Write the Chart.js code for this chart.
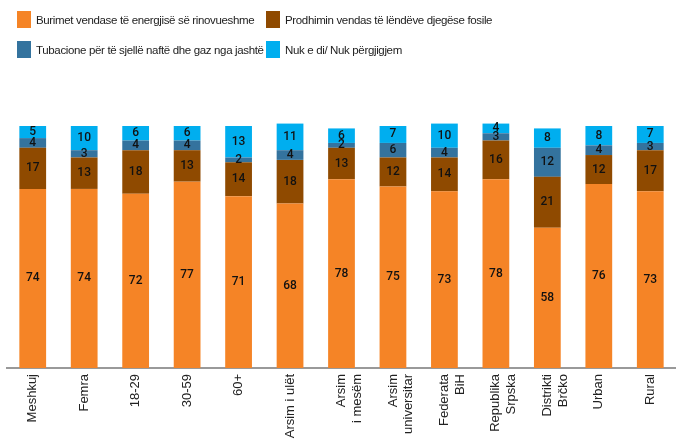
<!DOCTYPE html>
<html>
<head>
<meta charset="utf-8">
<script src="https://cdn.jsdelivr.net/npm/chart.js@4/dist/chart.umd.min.js"></script>
<style>
  html,body{margin:0;padding:0;background:#fff;overflow:hidden;}
  #wrap{position:relative;width:676px;height:439px;}
  #legend{position:absolute;left:0;top:0;width:676px;height:70px;font-family:"Liberation Sans",Arial,sans-serif;font-size:11.5px;letter-spacing:-0.35px;color:#222;}
  .item{position:absolute;display:flex;align-items:center;white-space:nowrap;}
  .sw{width:14px;height:17px;margin-right:5px;}
</style>
</head>
<body>
<div id="wrap">
  <div id="legend"></div>
  <canvas id="chart" width="676" height="439"></canvas>
</div>
<script>
const categories = [
  'Meshkuj','Femra','18-29','30-59','60+','Arsim i ulët',
  ['Arsim','i mesëm'],['Arsim','universitar'],['Federata','BiH'],
  ['Republika','Srpska'],['Distrikti','Brčko'],'Urban','Rural'
];

const seriesNames = [
  'Burimet vendase të energjisë së rinovueshme',
  'Prodhimin vendas të lëndëve djegëse fosile',
  'Tubacione për të sjellë naftë dhe gaz nga jashtë',
  'Nuk e di/ Nuk përgjigjem'
];

const renewables = [74,74,72,77,71,68,78,75,73,78,58,76,73];
const fossil     = [17,13,18,13,14,18,13,12,14,16,21,12,17];
const pipelines  = [4,3,4,4,2,4,2,6,4,3,12,4,3];
const dontKnow   = [5,10,6,6,13,11,6,7,10,4,8,8,7];

const colors = ['#f58426','#8f4a00','#34739e','#00aeef'];

// legend (two columns)
const legendPos = [[17,11],[266,11],[17,41],[266,41]];
const legendEl = document.getElementById('legend');
seriesNames.forEach((n,i)=>{
  const d = document.createElement('div');
  d.className = 'item';
  d.style.left = legendPos[i][0]+'px';
  d.style.top = legendPos[i][1]+'px';
  d.innerHTML = `<div class="sw" style="background:${colors[i]}"></div><span>${n}</span>`;
  legendEl.appendChild(d);
});

const valueLabels = {
  id:'valueLabels',
  afterDatasetsDraw(chart){
    const ctx = chart.ctx;
    ctx.save();
    ctx.font = '500 12px Roboto, sans-serif';
    ctx.fillStyle = '#111';
    ctx.textAlign = 'center';
    ctx.textBaseline = 'middle';
    chart.data.datasets.forEach((ds,di)=>{
      chart.getDatasetMeta(di).data.forEach((bar,i)=>{
        ctx.fillText(ds.data[i], bar.x, (bar.y + bar.base)/2);
      });
    });
    ctx.restore();
  }
};

const allSeries = [renewables, fossil, pipelines, dontKnow];

new Chart(document.getElementById('chart'), {
  type:'bar',
  data:{
    labels:categories,
    datasets: allSeries.map((s,i)=>({
      label:seriesNames[i],
      data:s,
      backgroundColor:colors[i],
      borderWidth:0,
      barPercentage:0.52,
      categoryPercentage:1,
      clip:false
    }))
  },
  options:{
    responsive:false,
    animation:false,
    layout:{padding:{top:126,left:7,right:0,bottom:0}},
    plugins:{legend:{display:false},tooltip:{enabled:false}},
    scales:{
      x:{
        stacked:true,
        grid:{display:false,drawTicks:false},
        border:{display:true,color:'#999',width:2},
        ticks:{
          autoSkip:false,maxRotation:90,minRotation:90,padding:6,
          color:'#222',font:{family:'"Liberation Sans", Arial, sans-serif',size:13}
        },
        afterFit(scale){ scale.height = 71; }
      },
      y:{stacked:true,display:false,min:0,max:100}
    }
  },
  plugins:[valueLabels]
});
</script>
</body>
</html>
